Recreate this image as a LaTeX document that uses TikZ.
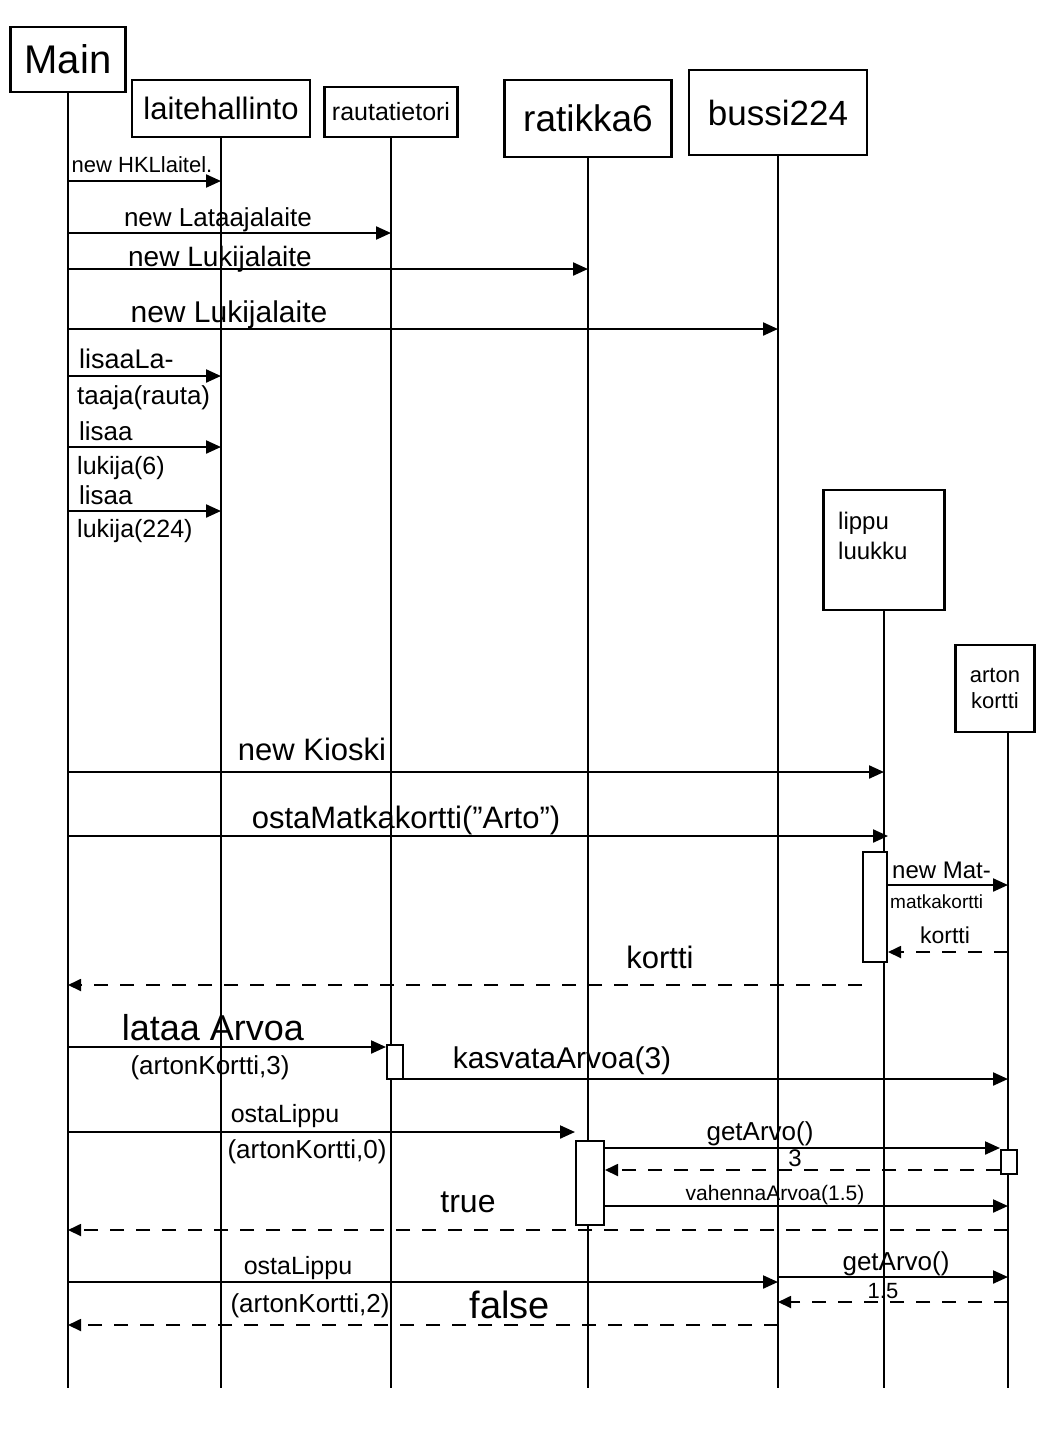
\documentclass[tikz,border=0pt]{standalone}
\usepackage{fontspec}
\setmainfont{Liberation Sans}
\usetikzlibrary{arrows.meta}
\tikzset{
  obj/.style={draw, line width=2.2pt, rectangle, inner sep=0pt, align=center},
  life/.style={line width=2pt},
  msg/.style={line width=2.2pt, -{Triangle[length=15pt,width=13pt]}},
  ret/.style={line width=1.8pt, dash pattern=on 14pt off 12pt, -{Triangle[length=13pt,width=12pt]}},
  act/.style={draw, line width=2pt, fill=white},
  lbl/.style={inner sep=0pt, anchor=base, font=\fontsize{#1}{#1}\selectfont},
  lbl/.default=24
}
\begin{document}
\begin{tikzpicture}[x=1pt,y=-1pt]
\useasboundingbox (0,0) rectangle (1053,1444);
\fill[white] (0,0) rectangle (1053,1444);

% objects
\node[obj, minimum width=115pt, minimum height=65pt, font=\fontsize{40}{40}\selectfont] (main) at (68,59.5) {Main};
\node[obj, minimum width=178pt, minimum height=57pt, font=\fontsize{31}{31}\selectfont] (lh) at (221,108.5) {laitehallinto};
\node[obj, minimum width=133pt, minimum height=50pt, font=\fontsize{25}{25}\selectfont] (rt) at (391,112) {rautatietori};
\node[obj, minimum width=167pt, minimum height=77pt, font=\fontsize{37}{37}\selectfont] (r6) at (588,118.5) {ratikka6};
\node[obj, minimum width=178pt, minimum height=85pt, font=\fontsize{35}{35}\selectfont] (b224) at (778,112.5) {bussi224};
\node[obj, minimum width=121pt, minimum height=120pt] (ll) at (884,550) {};
\node[inner sep=0pt, align=left, font=\fontsize{24}{30}\selectfont, anchor=north west] (lltxt) at (838,512) {lippu\\luukku};
\node[obj, minimum width=79pt, minimum height=87pt, font=\fontsize{22}{26}\selectfont] (ak) at (995,688.5) {arton\\kortti};
\coordinate (akt) at ([xshift=13pt]ak.south);

% lifelines
\foreach \n in {main,lh,rt,r6,b224,ll} {
  \draw[life] (\n.south) -- (\n.south |- 0,1388);
}
\draw[life] (akt) -- (akt |- 0,1388);

% activation boxes
\node[act, minimum width=24pt, minimum height=110pt, inner sep=0pt] (a1) at (875,907) {};
\node[act, minimum width=16pt, minimum height=34pt, inner sep=0pt] (a2) at (395,1062) {};
\node[act, minimum width=28pt, minimum height=84pt, inner sep=0pt] (a3) at (590,1183) {};
\node[act, minimum width=16pt, minimum height=24pt, inner sep=0pt] (a4) at (1009,1162) {};

% creation / setup messages
\draw[msg] (main.south |- 0,181) -- (lh.south |- 0,181);
\node[lbl=22] at (142,172) {new HKLlaitel.};
\draw[msg] (main.south |- 0,233) -- (rt.south |- 0,233);
\node[lbl=26] at (218,226) {new Lataajalaite};
\draw[msg] (main.south |- 0,269) -- (r6.south |- 0,269);
\node[lbl=28] at (220,266) {new Lukijalaite};
\draw[msg] (main.south |- 0,329) -- (b224.south |- 0,329);
\node[lbl=30] at (229,322) {new Lukijalaite};

\draw[msg] (main.south |- 0,376) -- (lh.south |- 0,376);
\node[lbl=27, anchor=base west] at (79,368) {lisaaLa-};
\node[lbl=26, anchor=base west] at (77,404) {taaja(rauta)};
\draw[msg] (main.south |- 0,447) -- (lh.south |- 0,447);
\node[lbl=26, anchor=base west] at (79,440) {lisaa};
\node[lbl=25, anchor=base west] at (77,474) {lukija(6)};
\draw[msg] (main.south |- 0,511) -- (lh.south |- 0,511);
\node[lbl=26, anchor=base west] at (79,504) {lisaa};
\node[lbl=25, anchor=base west] at (77,537) {lukija(224)};

% Kioski
\draw[msg] (main.south |- 0,772) -- (ll.south |- 0,772);
\node[lbl=31] at (312,760) {new Kioski};
\draw[msg] (main.south |- 0,836) -- (a1.north east |- 0,836);
\node[lbl=31] at (406,828) {ostaMatkakortti("Arto")};

\draw[msg] (a1.east |- 0,885) -- (akt |- 0,885);
\node[lbl=24, anchor=base west] at (892,878) {new Mat-};
\node[lbl=19, anchor=base west] at (890,908) {matkakortti};
\draw[ret] (akt |- 0,952) -- (a1.east |- 0,952);
\node[lbl=23] at (945,943) {kortti};
\draw[ret] (a1.south west |- 0,985) -- (main.south |- 0,985);
\node[lbl=31] at (660,968) {kortti};

% lataa Arvoa
\draw[msg] (main.south |- 0,1047) -- (a2.west |- 0,1047);
\node[lbl=36] at (213,1040) {lataa Arvoa};
\node[lbl=26] at (210,1074) {(artonKortti,3)};
\draw[msg] (a2.east |- 0,1079) -- (akt |- 0,1079);
\node[lbl=30] at (562,1068) {kasvataArvoa(3)};

% ostaLippu ratikka
\draw[msg] (main.south |- 0,1132) -- (a3.west |- 0,1132);
\node[lbl=25] at (285,1122) {ostaLippu};
\node[lbl=26] at (307,1158) {(artonKortti,0)};
\draw[msg] (a3.east |- 0,1148) -- (a4.west |- 0,1148);
\node[lbl=26] at (760,1140) {getArvo()};
\draw[ret] (a4.west |- 0,1170) -- (a3.east |- 0,1170);
\node[lbl=24] at (795,1166) {3};
\draw[msg] (a3.east |- 0,1206) -- (akt |- 0,1206);
\node[lbl=21] at (775,1200) {vahennaArvoa(1.5)};
\draw[ret] (akt |- 0,1230) -- (main.south |- 0,1230);
\node[lbl=32] at (468,1212) {true};

% ostaLippu bussi
\draw[msg] (main.south |- 0,1282) -- (b224.south |- 0,1282);
\node[lbl=25] at (298,1274) {ostaLippu};
\node[lbl=26] at (310,1312) {(artonKortti,2)};
\draw[msg] (b224.south |- 0,1277) -- (akt |- 0,1277);
\node[lbl=26] at (896,1270) {getArvo()};
\draw[ret] (akt |- 0,1302) -- (b224.south |- 0,1302);
\node[lbl=22] at (883,1298) {1.5};
\draw[ret] (b224.south |- 0,1325) -- (main.south |- 0,1325);
\node[lbl=38] at (510,1318) {false};
\end{tikzpicture}
\end{document}
